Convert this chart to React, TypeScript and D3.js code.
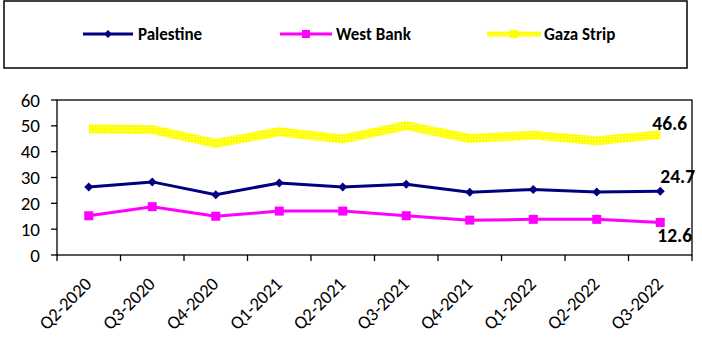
import React from "react";
import * as d3 from "d3";

const categories = ["Q2-2020","Q3-2020","Q4-2020","Q1-2021","Q2-2021","Q3-2021","Q4-2021","Q1-2022","Q2-2022","Q3-2022"];
const palestine = [26.3, 28.3, 23.3, 27.9, 26.3, 27.4, 24.3, 25.4, 24.4, 24.7];
const westBank = [15.2, 18.7, 15.0, 17.0, 17.0, 15.2, 13.5, 13.8, 13.8, 12.6];
const gazaStrip = [48.9, 48.5, 43.2, 47.7, 44.9, 50.1, 45.1, 46.4, 44.2, 46.6];
const yTicks = [0, 10, 20, 30, 40, 50, 60];
const seriesNames = ["Palestine", "West Bank", "Gaza Strip"];

const FONT = "Carlito, Calibri, Lato, 'Open Sans', sans-serif";

export default function App() {
  const left = 57, right = 692, top = 100, bottom = 255;
  const x = d3.scaleBand<string>().domain(categories).range([left, right]).padding(0);
  const y = d3.scaleLinear().domain([0, 60]).range([bottom, top]);
  const cx = (c: string) => (x(c) as number) + x.bandwidth() / 2;
  const line = d3.line<number>().x((_, i) => cx(categories[i])).y((v) => y(v));
  const boundaries = categories.map((c) => x(c) as number).concat([right]);
  const last = categories[categories.length - 1];

  const diamond = (px: number, py: number, r: number) =>
    `M${px},${py - r}L${px + r},${py}L${px},${py + r}L${px - r},${py}Z`;

  return (
    <svg width={702} height={355} style={{ position: "absolute", left: 0, top: 0, background: "#fff" }} fontFamily={FONT}>
      <defs>
        <pattern id="gzdots" width="3" height="3" patternUnits="userSpaceOnUse">
          <rect width="3" height="3" fill="#FFFF00" />
          <circle cx="1.5" cy="1.5" r="0.7" fill="#FFFFB0" />
        </pattern>
      </defs>
      {/* Legend */}
      <rect x={4} y={1} width={683} height={67} fill="#fff" stroke="#000" strokeWidth={1.5} />
      <line x1={83} x2={133} y1={34} y2={34} stroke="#000080" strokeWidth={3} />
      <path d={diamond(108, 34, 4)} fill="#000080" />
      <text x={138} y={39.5} fontSize={17} fontWeight="bold" fill="#000">{seriesNames[0]}</text>
      <line x1={280} x2={332} y1={34} y2={34} stroke="#FF00FF" strokeWidth={3} />
      <rect x={302} y={30} width={8} height={8} fill="#FF00FF" />
      <text x={336} y={39.5} fontSize={17} fontWeight="bold" fill="#000">{seriesNames[1]}</text>
      <line x1={487} x2={541} y1={34} y2={34} stroke="url(#gzdots)" strokeWidth={5} />
      <rect x={510} y={30} width={8} height={8} fill="#FFFF00" />
      <text x={544} y={39.5} fontSize={17} fontWeight="bold" fill="#000">{seriesNames[2]}</text>

      {/* Plot frame */}
      <rect x={left} y={top} width={right - left} height={bottom - top} fill="none" stroke="#000" strokeWidth={1.3} />
      {yTicks.map((t) => (
        <g key={t}>
          <line x1={left - 6} x2={left} y1={y(t)} y2={y(t)} stroke="#000" strokeWidth={1.3} />
          <text x={40} y={y(t) + 6.5} textAnchor="end" fontSize={19} fill="#000">{t}</text>
        </g>
      ))}
      {boundaries.map((b, i) => (
        <line key={i} x1={b} x2={b} y1={bottom} y2={bottom + 6} stroke="#000" strokeWidth={1.3} />
      ))}
      {categories.map((c) => (
        <text key={c} transform={`translate(${cx(c) + 4},${285}) rotate(-45)`} textAnchor="end" fontSize={18.5} fill="#000">{c}</text>
      ))}

      <path d={line(gazaStrip) as string} fill="none" stroke="url(#gzdots)" strokeWidth={9} strokeLinejoin="round" />
      <path d={line(palestine) as string} fill="none" stroke="#000080" strokeWidth={3} />
      {palestine.map((v, i) => (
        <path key={i} d={diamond(cx(categories[i]), y(v), 4.5)} fill="#000080" />
      ))}
      <path d={line(westBank) as string} fill="none" stroke="#FF00FF" strokeWidth={3} />
      {westBank.map((v, i) => (
        <rect key={i} x={cx(categories[i]) - 4.5} y={y(v) - 4.5} width={9} height={9} fill="#FF00FF" />
      ))}

      <text x={cx(last) - 8} y={129.5} fontSize={19.5} fontWeight="bold" fill="#000">{gazaStrip[gazaStrip.length - 1]}</text>
      <text x={cx(last)} y={183} fontSize={19.5} fontWeight="bold" fill="#000">{palestine[palestine.length - 1]}</text>
      <text x={cx(last) - 3} y={242} fontSize={19.5} fontWeight="bold" fill="#000">{westBank[westBank.length - 1]}</text>
    </svg>
  );
}
